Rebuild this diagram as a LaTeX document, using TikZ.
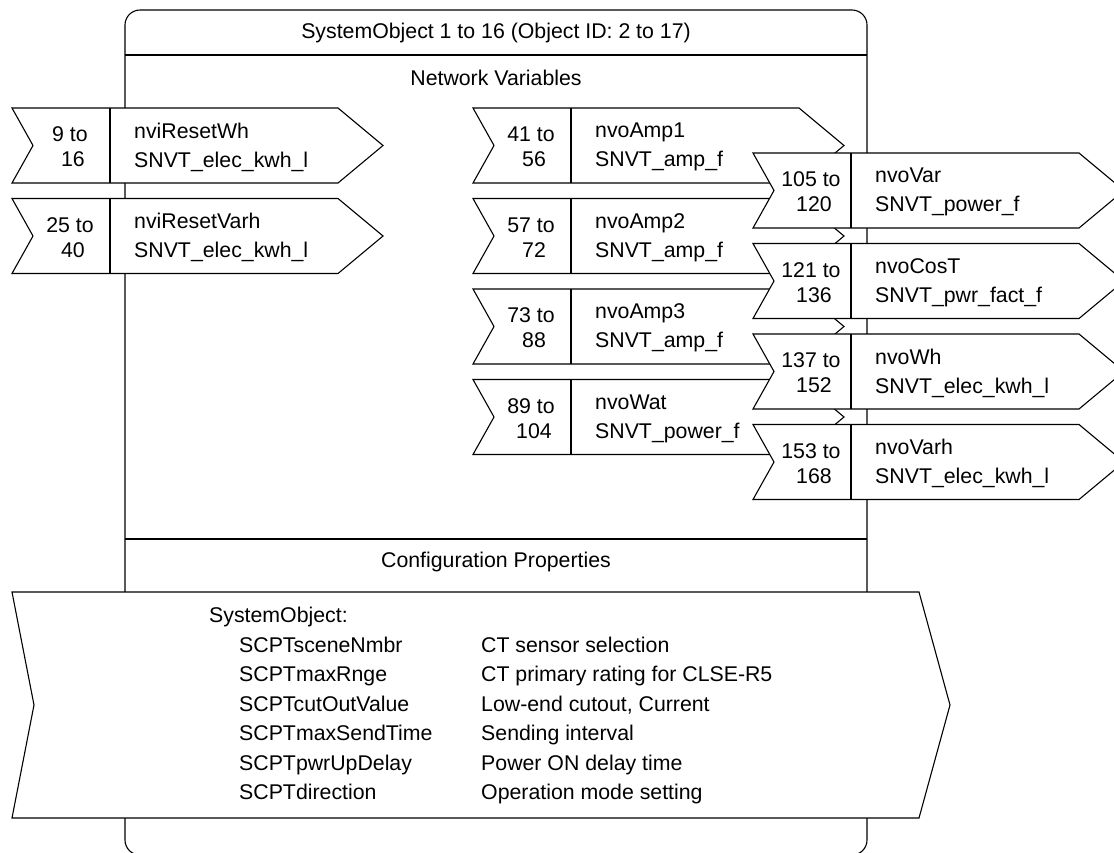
\documentclass[tikz,border=0pt]{standalone}
\usepackage{fontspec}
\setmainfont{Liberation Sans}
\usetikzlibrary{positioning}

\tikzset{
  objframe/.style={line width=1.1pt, rounded corners=15pt},
  block/.style={draw, fill=white, line width=1.1pt, line join=miter},
  heading/.style={inner sep=0pt, font=\fontsize{21.3}{25}\selectfont},
  rangetext/.style={align=center, inner sep=0pt, font=\fontsize{21.3}{25}\selectfont},
  varname/.style={align=left, anchor=west, inner sep=0pt, font=\fontsize{21.3}{29}\selectfont},
  cptext/.style={anchor=base west, inner sep=0pt, font=\fontsize{21.3}{25}\selectfont},
}

% one network variable: #1 prefix, #2 top left, #3/#4 index range, #5 name, #6 type
\newcommand{\nvarrow}[6]{%
  \begin{scope}[shift={#2}]
    \draw[block] (0,0) -- (326,0) -- (371,37.5) -- (326,75) -- (0,75) -- (21,37.5) -- cycle;
    \draw[line width=1.1pt] (98,0) -- (98,75);
    \node[rangetext] (#1-idx) at (61,39) {#3 to\kern6pt\\#4};
    \node[varname] (#1-var) at (122,39) {#5\\#6};
  \end{scope}}

\begin{document}
\begin{tikzpicture}[x=1pt,y=-1pt]
  \clip (0,0) rectangle (1114,852);
  % object frame
  \draw[objframe] (125,10) rectangle (867,855);
  \draw[line width=1.1pt] (125,55) -- (867,55);
  \draw[line width=1.1pt] (125,539) -- (867,539);
  \node[heading] (objtitle) at (496,33) {SystemObject 1 to 16 (Object ID: 2 to 17)};
  \node[heading] (nvtitle) at (496,78) {Network Variables};
  \node[heading] (cptitle) at (496,562) {Configuration Properties};

  % inputs
  \nvarrow{rstwh}{(12,108)}{9}{16}{nviResetWh}{SNVT\_elec\_kwh\_l}
  \nvarrow{rstvarh}{(12,198.5)}{25}{40}{nviResetVarh}{SNVT\_elec\_kwh\_l}

  % outputs
  \nvarrow{amp1}{(473,108)}{41}{56}{nvoAmp1}{SNVT\_amp\_f}
  \nvarrow{amp2}{(473,198.5)}{57}{72}{nvoAmp2}{SNVT\_amp\_f}
  \nvarrow{amp3}{(473,289)}{73}{88}{nvoAmp3}{SNVT\_amp\_f}
  \nvarrow{wat}{(473,379.5)}{89}{104}{nvoWat}{SNVT\_power\_f}
  \nvarrow{var}{(753,153)}{105}{120}{nvoVar}{SNVT\_power\_f}
  \nvarrow{cost}{(753,243.5)}{121}{136}{nvoCosT}{SNVT\_pwr\_fact\_f}
  \nvarrow{wh}{(753,334)}{137}{152}{nvoWh}{SNVT\_elec\_kwh\_l}
  \nvarrow{varh}{(753,424.5)}{153}{168}{nvoVarh}{SNVT\_elec\_kwh\_l}

  % configuration properties
  \draw[block] (12,592) -- (919,592) -- (950,705) -- (919,818) -- (12,818) -- (34,705) -- cycle;
  \node[cptext] (cphead) at (209,622) {SystemObject:};
  \foreach \n/\d [count=\i from 0] in {SCPTsceneNmbr/CT sensor selection,
      SCPTmaxRnge/CT primary rating for CLSE-R5,
      SCPTcutOutValue/{Low-end cutout, Current},
      SCPTmaxSendTime/Sending interval,
      SCPTpwrUpDelay/Power ON delay time,
      SCPTdirection/Operation mode setting} {
    \node[cptext] (cpn\i) at (239,652.5+29.4*\i) {\n};
    \node[cptext] (cpd\i) at (481,652.5+29.4*\i) {\d};
  }
\end{tikzpicture}
\end{document}
